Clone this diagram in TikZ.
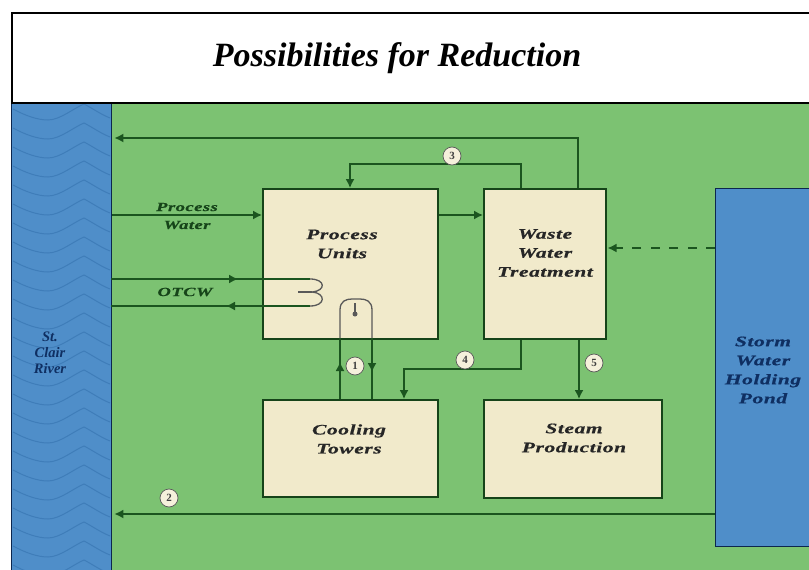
\documentclass[tikz,border=0pt]{standalone}
\usepackage{fontspec}
\setmainfont{Liberation Serif}
\newfontfamily\widefont[FakeStretch=1.48,FakeBold=0.6,LetterSpace=4]{Liberation Serif Bold Italic}
\usetikzlibrary{arrows.meta,calc}
\definecolor{fieldgreen}{HTML}{7CC272}
\definecolor{waterblue}{HTML}{4F8EC9}
\definecolor{wavecol}{HTML}{3F7DB9}
\definecolor{creambox}{HTML}{F1EACB}
\definecolor{linegreen}{HTML}{1B551F}
\definecolor{navytext}{HTML}{0F2F62}
\tikzset{
  boxnode/.style={draw=linegreen!80!black,line width=1.5pt,fill=creambox,inner sep=0pt,anchor=north west},
  waternode/.style={draw=navytext!80!black,line width=1.4pt,fill=waterblue,inner sep=0pt,anchor=north west},
  boxtext/.style={font=\widefont\fontsize{14.5}{19}\selectfont,align=center,text=black!85,inner sep=0pt},
  watertext/.style={font=\widefont\fontsize{14.5}{19}\selectfont,align=center,text=navytext,inner sep=0pt},
  smalltext/.style={font=\widefont\fontsize{12.5}{15}\selectfont,align=center,text=linegreen!80!black,inner sep=0pt},
  flow/.style={draw=linegreen,line width=1.5pt},
  inner/.style={draw=black!65,line width=1.3pt},
  tip/.style={-{Latex[length=9pt,width=9pt]}},
  numcirc/.style={circle,draw=gray!70!black,line width=.7pt,fill=creambox!70!white,inner sep=0pt,minimum size=18pt,font=\bfseries\fontsize{11}{11}\selectfont,text=black!75}
}
\begin{document}
\begin{tikzpicture}[x=1pt,y=-1pt]
\useasboundingbox (0,0) rectangle (809,570);
\fill[white] (0,0) rectangle (809,570);
% field
\fill[fieldgreen] (11,102) rectangle (809,570);
% river and waves first, frame on top
\node[waternode,minimum width=100pt,minimum height=475pt] (river) at (11,102) {};
\foreach \k in {0,...,24}{
  \pgfmathsetmacro{\yy}{110+19*\k}
  \draw[wavecol,line width=1pt] (13,\yy-1) .. controls (26,\yy+6) and (38,\yy+10) .. (48,\yy+10)
     .. controls (60,\yy+10) and (74,\yy-2) .. (84,\yy-6) .. controls (92,\yy-2) and (100,\yy+4) .. (110,\yy+8);
}
\node[draw=black,line width=2.2pt,fill=white,anchor=north west,minimum width=810pt,minimum height=90pt,inner sep=0pt] (frame) at (11,12) {};
\node[font=\bfseries\itshape\fontsize{34}{38}\selectfont,inner sep=0pt] (title) at (397,58) {Possibilities for Reduction};
\node[align=center,inner sep=0pt,text=navytext,font=\bfseries\itshape\fontsize{14.5}{16}\selectfont] (rivert) at (50,353) {St.\\Clair\\River};
% boxes
\node[boxnode,minimum width=175pt,minimum height=150pt] (pu) at (262,188) {};
\node[boxnode,minimum width=122pt,minimum height=150pt] (ww) at (483,188) {};
\node[boxnode,minimum width=175pt,minimum height=97pt] (ct) at (262,399) {};
\node[boxnode,minimum width=178pt,minimum height=98pt] (sp) at (483,399) {};
\node[waternode,minimum width=100pt,minimum height=358pt] (pond) at (715,188) {};
\node[boxtext] (put) at (342,244) {Process\\Units};
\node[boxtext] (wwt) at (545,253) {Waste\\Water\\Treatment};
\node[boxtext] (ctt) at (349,439) {Cooling\\Towers};
\node[boxtext] (spt) at (574,438) {Steam\\Production};
\node[watertext] (pondt) at (763,370) {Storm\\Water\\Holding\\Pond};
\node[smalltext] (pwt) at (187,207) {Process};
\node[smalltext] (pwt2) at (187,225) {Water};
\node[smalltext] (otcw) at (185,292) {OTCW};
% helper coordinates
\coordinate (a1) at (578,138);
\coordinate (a3) at (521,164);
\coordinate (a3b) at (350,164);
\coordinate (a4) at (521,369);
\coordinate (a4b) at (404,369);
\coordinate (a5) at (579,369);
\coordinate (rowpw) at (0,215);
\coordinate (rowdash) at (0,248);
\coordinate (rowtwo) at (0,514);
\coordinate (otin) at (111,279);
\coordinate (otinm) at (238,279);
\coordinate (otinc) at (310,279);
\coordinate (otout) at (111,306);
\coordinate (otoutm) at (226,306);
\coordinate (otoutc) at (310,306);
\coordinate (ctl) at (340,399);
\coordinate (ctlm) at (340,362);
\coordinate (ctr) at (372,399);
\coordinate (ctrm) at (372,372);
\coordinate (ctrt) at (372,338);
\coordinate (ctlt) at (340,338);
% connectors
\draw[flow,tip] (ww.north -| a1) -- (a1) -- ($(a1 -| river.east)+(2,0)$);
\draw[flow,tip] (ww.north -| a3) -- (a3) -- (a3b) -- (pu.north -| a3b);
\draw[flow,tip] (river.east |- rowpw) -- (pu.west |- rowpw);
\draw[flow,tip] (pu.east |- rowpw) -- (ww.west |- rowpw);
\draw[flow,tip,line width=1.8pt,dash pattern=on 9pt off 9.5pt] (pond.west |- rowdash) -- ($(ww.east |- rowdash)+(1,0)$);
\draw[flow,tip] (pond.west |- rowtwo) -- ($(river.east |- rowtwo)+(2,0)$);
\draw[flow] (otin) -- (otinc);
\draw[flow,tip] (otin) -- (otinm);
\draw[flow] (otout) -- (otoutc);
\draw[flow,tip] (otoutc) -- (otoutm);
\draw[inner] (otinc) .. controls (326,279) and (326,291) .. (312,292) .. controls (326,293) and (326,306) .. (otoutc);
\draw[inner] (298,292) -- (312,292);
\draw[flow] (ctl) -- (ctlt);
\draw[flow,tip] (ctl) -- (ctlm);
\draw[flow] (ctr) -- (ctrt);
\draw[flow,tip] (ctrt) -- (ctrm);
\draw[inner] (ctlt) -- (340,310) .. controls (340,301) and (346,299) .. (352,299) -- (360,299) .. controls (366,299) and (372,301) .. (372,310) -- (ctrt);
\draw[inner] (355,303) -- (355,313);
\fill[gray!70!black] (355,314) circle (2.5pt);
\draw[flow,tip] (ww.south -| a4) -- (a4) -- (a4b) -- (ct.north -| a4b);
\draw[flow,tip] (ww.south -| a5) -- (sp.north -| a5);
% numbers
\node[numcirc] (n1) at (355,366) {1};
\node[numcirc] (n2) at (169,498) {2};
\node[numcirc] (n3) at (452,156) {3};
\node[numcirc] (n4) at (465,360) {4};
\node[numcirc] (n5) at (594,363) {5};
\end{tikzpicture}
\end{document}
